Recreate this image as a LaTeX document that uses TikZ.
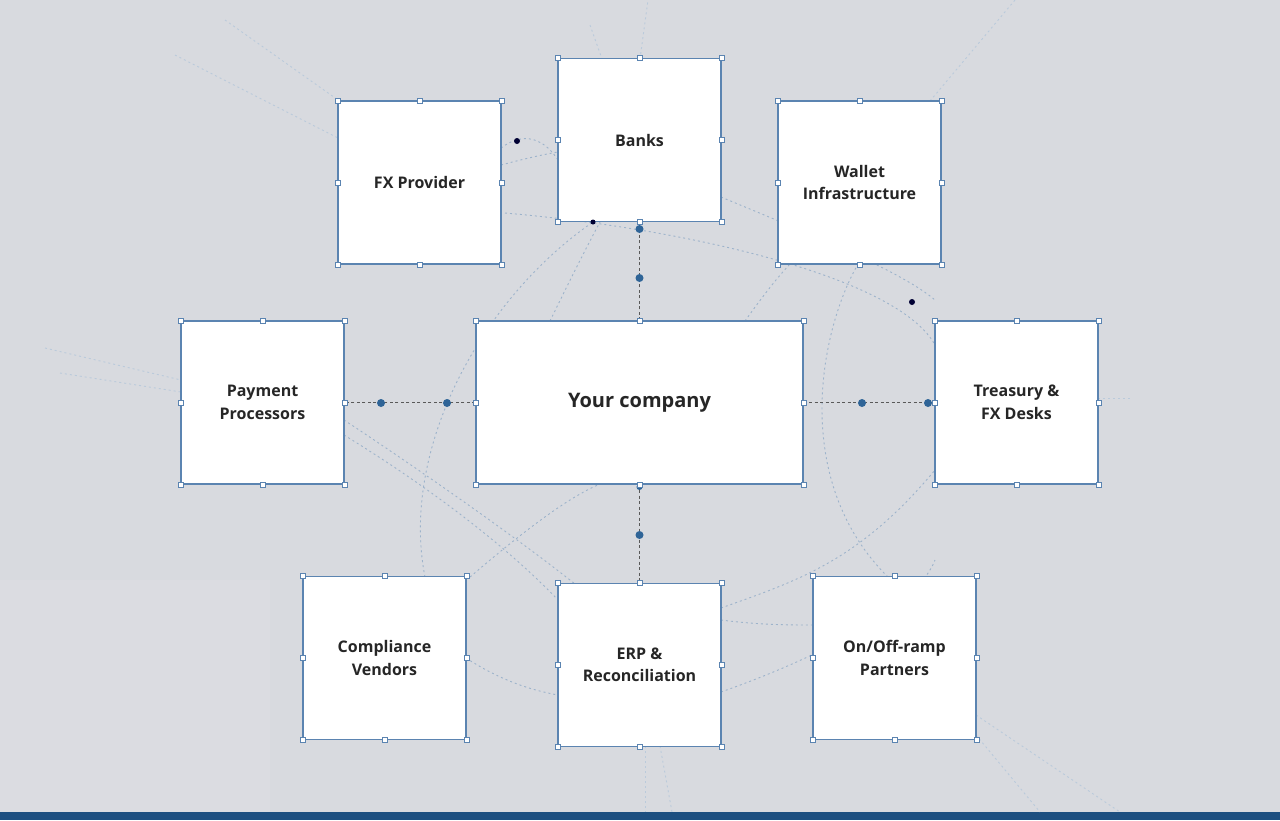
\documentclass[tikz,border=0pt]{standalone}
\usepackage{fontspec}
\setmainfont{Open Sans}
\usetikzlibrary{positioning}
\definecolor{bgc}{HTML}{D8DADF}
\definecolor{edgec}{HTML}{5B84B1}
\definecolor{dotc}{HTML}{2F6497}
\definecolor{barc}{HTML}{1D4F80}
\definecolor{faint}{HTML}{9DB3CB}
\tikzset{
  card/.style={draw=edgec, line width=1.2pt, fill=white, minimum width=163pt, minimum height=163pt,
    align=center, font=\fontsize{16}{22.5}\selectfont\bfseries, text=black!85, inner sep=0pt},
  handle/.style={draw=edgec, fill=white, line width=0.7pt, minimum size=5pt, inner sep=0pt},
  link/.style={draw=black!65, line width=1.2pt, dash pattern=on 3pt off 2.5pt},
  knot/.style={circle, fill=dotc, inner sep=0pt, minimum size=8pt},
  bgline/.style={draw=faint, line width=0.9pt, dash pattern=on 2pt off 3pt},
}
\newcommand\handles[1]{%
  \foreach \a in {north west,north,north east,east,south east,south,south west,west}
    \node[handle] at (#1.\a) {};}
\begin{document}
\begin{tikzpicture}[x=1pt,y=-1pt]
\fill[bgc] (0,0) rectangle (1280,820);
\fill[white, opacity=0.08] (0,580) rectangle (270,812);
\fill[barc] (0,812) rectangle (1280,820);
\useasboundingbox (0,0) rectangle (1280,820);

% background web
\draw[bgline] (505,213) .. controls (700,230) and (900,280) .. (935,345);
\draw[bgline] (344,435) .. controls (450,500) and (520,560) .. (558,600);
\draw[bgline] (425,577) .. controls (400,450) and (480,300) .. (593,222);
\draw[bgline] (470,577) .. controls (560,500) and (620,460) .. (650,484);
\draw[bgline] (721,608) .. controls (800,580) and (860,560) .. (935,470);
\draw[bgline] (888,577) .. controls (790,480) and (820,330) .. (858,264);
\draw[bgline] (721,692) .. controls (840,650) and (920,600) .. (935,560);
\draw[bgline] (466,658) .. controls (500,680) and (530,690) .. (558,695);
\draw[bgline] (721,620) .. controls (760,625) and (790,625) .. (813,625);
\draw[bgline] (721,197) .. controls (800,230) and (900,270) .. (935,300);
\draw[bgline] (550,321) .. controls (570,280) and (585,250) .. (600,222);
\draw[bgline] (745,321) .. controls (760,300) and (775,280) .. (790,264);
\draw[bgline] (501,165) .. controls (520,160) and (540,155) .. (558,152);
\draw[bgline] (501,148) .. controls (525,130) and (545,140) .. (558,160);
\draw[bgline] (344,420) .. controls (420,470) and (520,540) .. (575,584);
\draw[bgline, draw=faint!70] (175,55) -- (338,138);
\draw[bgline, draw=faint!70] (225,20) -- (338,100);
\draw[bgline, draw=faint!70] (45,348) -- (181,380);
\draw[bgline, draw=faint!70] (60,373) -- (181,392);
\draw[bgline, draw=faint!70] (1098,398) -- (1130,398);
\draw[bgline, draw=faint!70] (930,101) -- (1015,0);
\draw[bgline, draw=faint!70] (976,715) -- (1120,812);
\draw[bgline, draw=faint!70] (976,735) -- (1040,812);
\draw[bgline, draw=faint!70] (645,746) -- (645,812);
\draw[bgline, draw=faint!70] (660,746) -- (672,812);
\draw[bgline, draw=faint!70] (590,25) -- (602,59);
\draw[bgline, draw=faint!70] (640,59) -- (648,0);

% cards
\node[card] (fx) at (419.5,182.5) {FX Provider};
\node[card] (banks) at (639.5,140) {Banks};
\node[card] (wallet) at (859.5,182.5) {Wallet\\Infrastructure};
\node[card] (pay) at (262.5,402.5) {Payment\\Processors};
\node[card, minimum width=327pt, font=\fontsize{20}{24}\selectfont\bfseries] (you) at (639.5,402.5) {Your company};
\node[card] (treasury) at (1016.5,402.5) {Treasury \&\\FX Desks};
\node[card] (comp) at (384.5,658) {Compliance\\Vendors};
\node[card] (erp) at (639.5,665) {ERP \&\\Reconciliation};
\node[card] (ramp) at (894.5,658) {On/Off-ramp\\Partners};

% links to the centre
\draw[link] (you.north) -- (banks.south);
\draw[link] (you.west) -- (pay.east);
\draw[link] (you.east) -- (treasury.west);
\draw[link] (you.south) -- (erp.north);
\node[knot] at (639.5,229) {};
\node[knot] at (639.5,278) {};
\node[knot] at (381,403) {};
\node[knot] at (447,403) {};
\node[knot] at (862,403) {};
\node[knot] at (928,403) {};
\node[knot] at (639.5,535) {};
\node[knot, minimum size=6pt] at (639.5,487) {};
\fill[black!80!blue] (517,141) circle (3pt) (912,302) circle (3pt) (593,222) circle (2.5pt);

\foreach \n in {fx,banks,wallet,pay,you,treasury,comp,erp,ramp} {\handles{\n}}
\end{tikzpicture}
\end{document}
